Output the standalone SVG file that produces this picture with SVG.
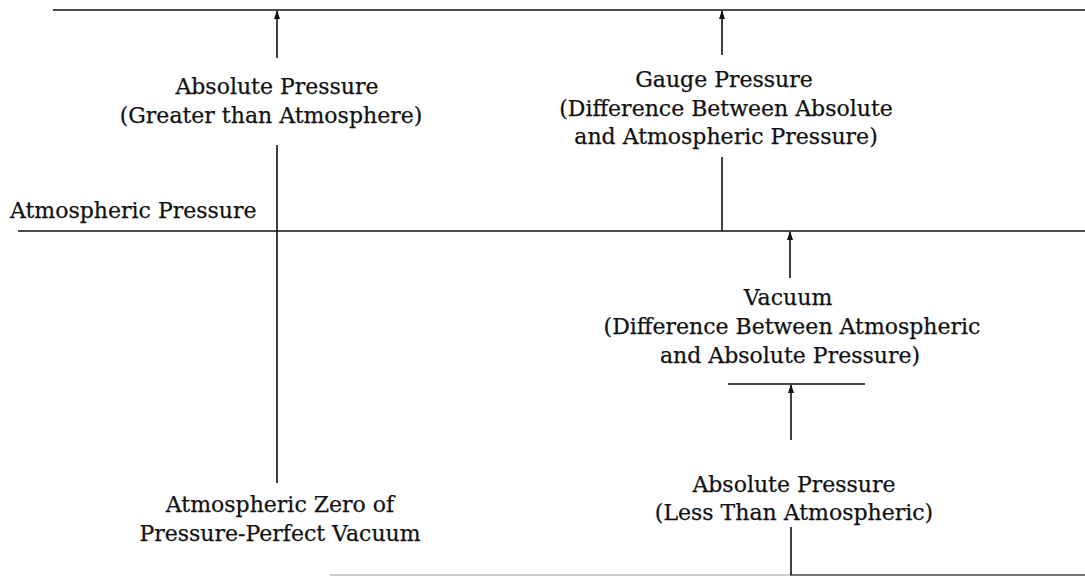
<svg xmlns="http://www.w3.org/2000/svg" width="1085" height="577" viewBox="0 0 1085 577">
<style>
.ln{stroke:#111;stroke-width:1.6;fill:none}
.t{font-family:"DejaVu Serif","Liberation Serif",serif;font-size:22px;fill:#111;stroke:#111;stroke-width:0.25;text-anchor:middle}
</style>
<defs>
<marker id="ah" markerWidth="9" markerHeight="7" refX="8" refY="3.5" orient="auto" markerUnits="userSpaceOnUse" viewBox="0 0 9 7">
<path d="M9,3.5 L0,0.5 L0,6.5 Z" fill="#111"/>
</marker>
</defs>
<rect width="1085" height="577" fill="#fff"/>
<g id="connectors">
<line class="ln" x1="53" y1="10" x2="1085" y2="10"/>
<line class="ln" x1="18" y1="231" x2="1085" y2="231"/>
<line class="ln" x1="728" y1="384" x2="865" y2="384"/>
<line x1="330" y1="575" x2="790" y2="575" stroke="#bbb" stroke-width="1.4"/>
<line x1="790" y1="575" x2="1085" y2="575" stroke="#444" stroke-width="1.4"/>
<line class="ln" x1="277" y1="58" x2="277" y2="11" marker-end="url(#ah)"/>
<line class="ln" x1="277" y1="145" x2="277" y2="483"/>
<line class="ln" x1="722" y1="55" x2="722" y2="11" marker-end="url(#ah)"/>
<line class="ln" x1="722" y1="157" x2="722" y2="231"/>
<line class="ln" x1="790" y1="278" x2="790" y2="232" marker-end="url(#ah)"/>
<line class="ln" x1="791" y1="440" x2="791" y2="385" marker-end="url(#ah)"/>
<line class="ln" x1="791" y1="527" x2="791" y2="575"/>
</g>
<g id="abs-high"><text class="t" x="277" y="94">Absolute Pressure</text><text class="t" x="271" y="123">(Greater than Atmosphere)</text></g>
<g id="gauge"><text class="t" x="724" y="87">Gauge Pressure</text><text class="t" x="726" y="116">(Difference Between Absolute</text><text class="t" x="726" y="144">and Atmospheric Pressure)</text></g>
<g id="atm"><text class="t" x="10" y="218" style="text-anchor:start">Atmospheric Pressure</text></g>
<g id="vacuum"><text class="t" x="788" y="305">Vacuum</text><text class="t" x="792" y="334">(Difference Between Atmospheric</text><text class="t" x="790" y="363">and Absolute Pressure)</text></g>
<g id="abs-low"><text class="t" x="794" y="492">Absolute Pressure</text><text class="t" x="794" y="520">(Less Than Atmospheric)</text></g>
<g id="zero"><text class="t" x="280" y="512">Atmospheric Zero of</text><text class="t" x="280" y="541">Pressure-Perfect Vacuum</text></g>
</svg>
